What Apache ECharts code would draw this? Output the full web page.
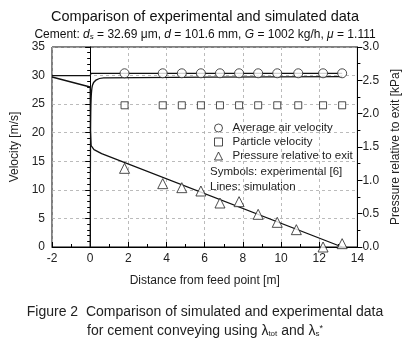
<!DOCTYPE html>
<html>
<head>
<meta charset="utf-8">
<script src="https://cdn.jsdelivr.net/npm/echarts@6/dist/echarts.min.js"></script>
<style>
html,body{margin:0;padding:0;background:#fff;}
#c{width:410px;height:354px;}
</style>
</head>
<body>
<div id="c"></div>
<script>
// ---- data ----
var expX = [1.8, 3.8, 4.8, 5.8, 6.8, 7.8, 8.8, 9.8, 10.9, 12.2, 13.2];
var airExp = [30.4, 30.4, 30.4, 30.4, 30.4, 30.4, 30.4, 30.4, 30.4, 30.4, 30.4];
var particleExp = [24.8, 24.8, 24.8, 24.8, 24.8, 24.8, 24.8, 24.8, 24.8, 24.8, 24.8];
var pressureX = [1.8, 3.8, 4.8, 5.8, 6.8, 7.8, 8.8, 9.8, 10.8, 12.2, 13.2];
var pressureExp = [1.18, 0.95, 0.89, 0.84, 0.66, 0.68, 0.49, 0.37, 0.26, 0.0, 0.05];

var simAirX = [-2, 0, 0.05, 13.2];
var simAirV = [30.0, 30.0, 30.4, 30.4];
var simPartX = [0, 0.02, 0.05, 0.12, 0.3, 0.7, 13.2];
var simPartV = [0, 20, 26, 28.3, 29.2, 29.6, 29.8];
var simPresX = [-2, 0, 0.01, 0.05, 0.2, 0.6, 13.2];
var simPresP = [2.55, 2.40, 1.75, 1.52, 1.46, 1.40, 0.0];

var xTicks = {min: -2, max: 14, interval: 2};
var vTicks = {min: 0, max: 35, interval: 5};
var pTicks = {min: 0, max: 3, interval: 0.5};

function pairs(xs, ys){ return xs.map(function(x,i){return [x, ys[i]];}); }

var FONT = 'Liberation Sans, Arial, sans-serif';
var chart = echarts.init(document.getElementById('c'), null, {renderer:'canvas'});
var axisCommon = {
  axisLine: {show: true, lineStyle: {color: '#000', width: 1}},
  axisLabel: {color: '#222', fontSize: 12, fontFamily: FONT},
  nameTextStyle: {color: '#222', fontSize: 12, fontFamily: FONT}
};
var option = {
  animation: false,
  backgroundColor: '#fff',
  title: [{
    text: 'Comparison of experimental and simulated data',
    left: 'center', top: 4,
    textStyle: {fontSize: 14.5, fontWeight: 'normal', color: '#111', fontFamily: FONT}
  }, {
    text: 'Cement: {i|d}{sub|s} = 32.69 μm, {i|d} = 101.6 mm, {i|G} = 1002 kg/h, {i|μ} = 1.111',
    left: 'center', top: 24,
    textStyle: {fontSize: 12, fontWeight: 'normal', color: '#111', fontFamily: FONT,
      rich: {
        i: {fontStyle: 'italic', fontSize: 12, color: '#111', fontFamily: FONT},
        sub: {fontStyle: 'italic', fontSize: 8, color: '#111', fontFamily: FONT, verticalAlign: 'bottom', lineHeight: 8}
      }}
  }],
  grid: {left: 52, right: 44, top: 47, bottom: 107, show: true, borderColor: '#000', borderWidth: 1, backgroundColor: 'transparent'},
  legend: {
    orient: 'vertical', left: 209, top: 117, itemGap: 2,
    itemWidth: 8, itemHeight: 8,
    textStyle: {fontSize: 11.5, color: '#222', fontFamily: FONT, padding: [0, 0, 0, 5]},
    data: [
      {name: 'Average air velocity', icon: 'circle', itemStyle: {color: '#fff', borderColor: '#222', borderWidth: 1}},
      {name: 'Particle velocity', icon: 'rect', itemStyle: {color: '#fff', borderColor: '#222', borderWidth: 1}},
      {name: 'Pressure relative to exit', icon: 'triangle', itemStyle: {color: '#fff', borderColor: '#222', borderWidth: 1}}
    ]
  },
  graphic: [
    {type: 'text', left: 210, top: 166, style: {text: 'Symbols: experimental [6]', fontSize: 11.5, fill: '#222', fontFamily: FONT}},
    {type: 'text', left: 210, top: 181, style: {text: 'Lines: simulation', fontSize: 11.5, fill: '#222', fontFamily: FONT}},
    {type: 'text', left: 'center', top: 305, style: {
      text: 'Figure 2  Comparison of simulated and experimental data', fontSize: 14, fill: '#222', fontFamily: FONT}},
    {type: 'text', left: 'center', top: 324, style: {
      text: 'for cement conveying using λ{sub|tot} and λ{sub|s}{sup|*}', fontSize: 14, fill: '#222', fontFamily: FONT,
      rich: {
        sub: {fontSize: 8, fill: '#222', verticalAlign: 'bottom', lineHeight: 8, fontFamily: FONT},
        sup: {fontSize: 9, fill: '#222', verticalAlign: 'top', lineHeight: 9, fontFamily: FONT}
      }}}
  ],
  xAxis: Object.assign({}, axisCommon, {
    type: 'value', min: xTicks.min, max: xTicks.max, interval: xTicks.interval,
    name: 'Distance from feed point [m]', nameLocation: 'middle', nameGap: 28,
    axisTick: {show: true, inside: true, length: 5, lineStyle: {color: '#000'}},
    minorTick: {show: true, splitNumber: 2, length: 3, lineStyle: {color: '#000'}},
    splitLine: {show: true, lineStyle: {color: '#aaa', type: [3, 3], width: 0.8}},
    axisLabel: {color: '#222', fontSize: 12, fontFamily: FONT, margin: 6}
  }),
  yAxis: [Object.assign({}, axisCommon, {
    type: 'value', min: vTicks.min, max: vTicks.max, interval: vTicks.interval, position: 'left',
    name: 'Velocity [m/s]', nameLocation: 'middle', nameGap: 28, nameRotate: 90,
    axisTick: {show: true, inside: false, length: 5, lineStyle: {color: '#000'}},
    minorTick: {show: true, splitNumber: 5, length: 3, lineStyle: {color: '#000'}},
    splitLine: {show: true, lineStyle: {color: '#aaa', type: [3, 3], width: 0.8}},
    axisLabel: {color: '#222', fontSize: 12, fontFamily: FONT, margin: 7}
  }), Object.assign({}, axisCommon, {
    type: 'value', min: pTicks.min, max: pTicks.max, interval: pTicks.interval, position: 'right',
    name: 'Pressure relative to exit [kPa]', nameLocation: 'middle', nameGap: 31, nameRotate: 90,
    axisTick: {show: true, inside: false, length: 5, lineStyle: {color: '#000'}},
    minorTick: {show: true, splitNumber: 2, length: 3, lineStyle: {color: '#000'}},
    splitLine: {show: false},
    axisLabel: {color: '#222', fontSize: 12, fontFamily: FONT, margin: 5,
      formatter: function(v){ return v.toFixed(1); }}
  })],
  series: [
    {name: 'sim air', type: 'line', yAxisIndex: 0, data: pairs(simAirX, simAirV), showSymbol: false, symbol: 'none',
     lineStyle: {color: '#111', width: 1.3}, silent: true},
    {name: 'sim particle', type: 'line', yAxisIndex: 0, data: pairs(simPartX, simPartV), showSymbol: false, symbol: 'none', smooth: 0.3,
     lineStyle: {color: '#111', width: 1.3}, silent: true},
    {name: 'sim pressure', type: 'line', yAxisIndex: 1, data: pairs(simPresX, simPresP), showSymbol: false, symbol: 'none',
     lineStyle: {color: '#111', width: 1.3}, silent: true},
    {name: 'Average air velocity', type: 'scatter', yAxisIndex: 0, data: pairs(expX, airExp), symbol: 'circle', symbolSize: 9,
     itemStyle: {color: '#fff', borderColor: '#222', borderWidth: 1}, z: 5},
    {name: 'Particle velocity', type: 'scatter', yAxisIndex: 0, data: pairs(expX, particleExp), symbol: 'rect', symbolSize: 7,
     itemStyle: {color: '#fff', borderColor: '#222', borderWidth: 1}, z: 5},
    {name: 'Pressure relative to exit', type: 'scatter', yAxisIndex: 1, data: pairs(pressureX, pressureExp), symbol: 'triangle', symbolSize: 10,
     itemStyle: {color: '#fff', borderColor: '#222', borderWidth: 1}, z: 5}
  ]
};
chart.setOption(option);
</script>
</body>
</html>
